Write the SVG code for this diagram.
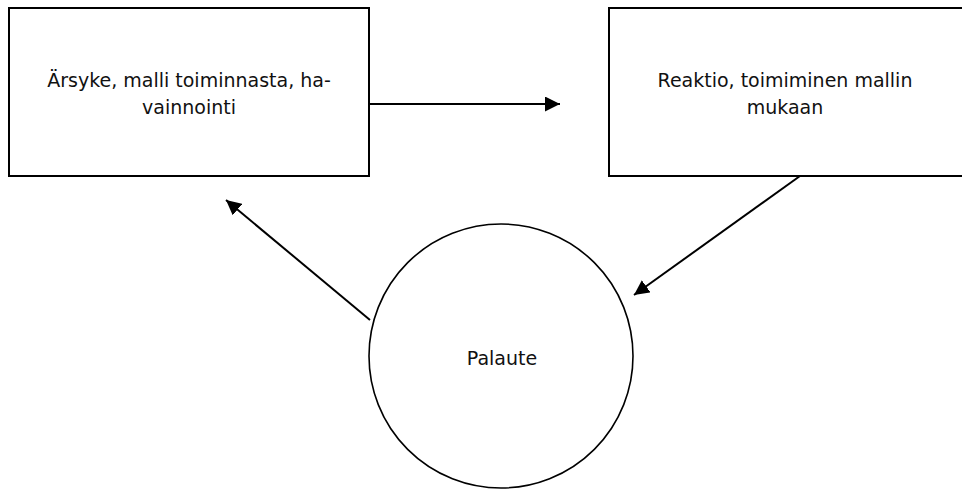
<svg xmlns="http://www.w3.org/2000/svg" width="962" height="489" viewBox="0 0 962 489">
  <style>
    .box { fill: #fff; stroke: #000; stroke-width: 2; }
    .ring { fill: #fff; stroke: #000; stroke-width: 1.6; }
    .lbl { font-family: "DejaVu Sans", "Noto Sans", sans-serif; font-size: 19px; fill: #111; text-anchor: middle; }
    .link { stroke: #000; stroke-width: 2; fill: none; marker-end: url(#head); }
  </style>
  <defs>
    <marker id="head" viewBox="0 0 15 15" refX="15" refY="7.5" markerWidth="15" markerHeight="15" markerUnits="userSpaceOnUse" orient="auto">
      <path d="M0,0 L15,7.5 L0,15 Z" fill="#000"/>
    </marker>
  </defs>
  <rect width="962" height="489" fill="#fff"/>

  <g id="stimulus">
    <rect class="box" x="9" y="8" width="360" height="168"/>
    <text class="lbl" x="189" y="87">Ärsyke, malli toiminnasta, ha-</text>
    <text class="lbl" x="189" y="113.5">vainnointi</text>
  </g>

  <g id="reaction">
    <rect class="box" x="609" y="8" width="362" height="168"/>
    <text class="lbl" x="785" y="87">Reaktio, toimiminen mallin</text>
    <text class="lbl" x="785" y="113.5">mukaan</text>
  </g>

  <g id="feedback">
    <circle class="ring" cx="501" cy="356" r="132"/>
    <text class="lbl" x="502" y="365">Palaute</text>
  </g>

  <g id="connectors">
    <line class="link" x1="369" y1="104" x2="560" y2="104"/>
    <line class="link" x1="800" y1="176" x2="634" y2="295"/>
    <line class="link" x1="370" y1="320" x2="226" y2="200"/>
  </g>
</svg>
